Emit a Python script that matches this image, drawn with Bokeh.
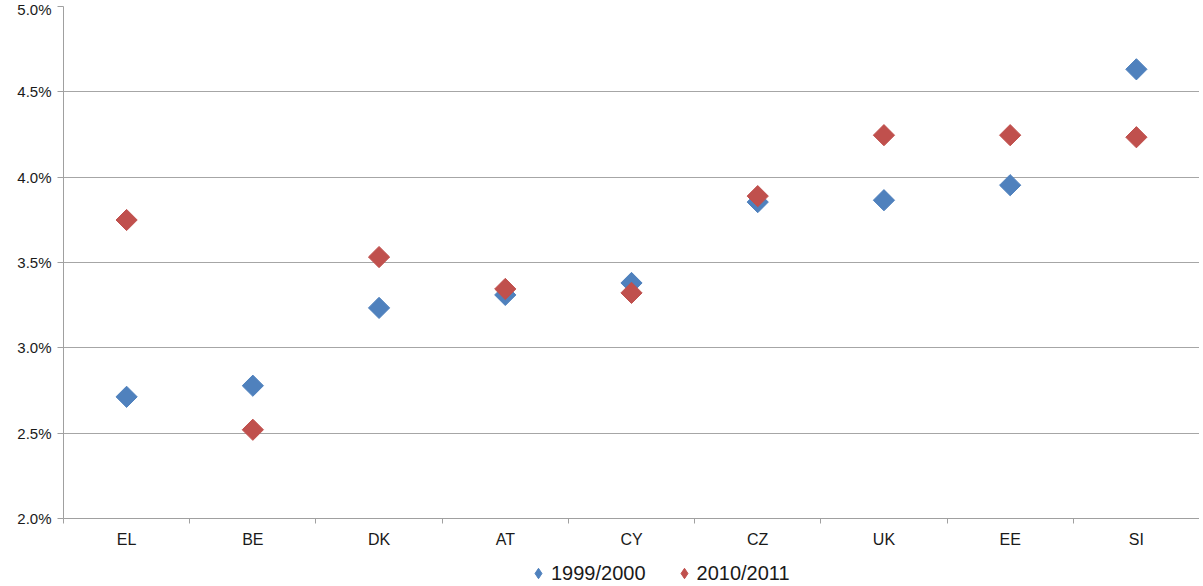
from bokeh.plotting import figure
from bokeh.layouts import column
from bokeh.models import (ColumnDataSource, FixedTicker, NumeralTickFormatter,
                          Range1d, Legend, LegendItem)
from bokeh.embed import file_html
from bokeh.resources import INLINE
import math

categories = ["EL", "BE", "DK", "AT", "CY", "CZ", "UK", "EE", "SI"]
series_1999 = [0.02713, 0.02778, 0.03234, 0.03310, 0.03380, 0.03854, 0.03865, 0.03953, 0.04632]
series_2010 = [0.03749, 0.02520, 0.03532, 0.03345, 0.03322, 0.03889, 0.04246, 0.04246, 0.04234]
y_ticks = [0.020, 0.025, 0.030, 0.035, 0.040, 0.045, 0.050]
series_names = ["1999/2000", "2010/2011"]

BLUE = "#4F81BD"
RED = "#C0504D"
FONT = "Liberation Sans"

xpos = [i + 0.5 for i in range(len(categories))]

p = figure(width=1199, height=550, output_backend="svg", toolbar_location=None,
           x_range=Range1d(0, len(categories)), y_range=Range1d(0.02, 0.05))
p.min_border_left = 63
p.min_border_right = 0
p.min_border_top = 6
p.min_border_bottom = 31
p.outline_line_color = None
p.background_fill_color = "white"
p.border_fill_color = "white"

src1 = ColumnDataSource(dict(x=xpos, y=series_1999))
src2 = ColumnDataSource(dict(x=xpos, y=series_2010))
r1 = p.scatter("x", "y", source=src1, marker="square", angle=math.pi / 4,
               size=15, fill_color=BLUE, line_color=BLUE)
r2 = p.scatter("x", "y", source=src2, marker="square", angle=math.pi / 4,
               size=15, fill_color=RED, line_color=RED)

# x axis: labels at category centers, tick marks at boundaries
xa = p.xaxis[0]
xa.ticker = FixedTicker(ticks=xpos, minor_ticks=list(range(len(categories) + 1)))
xa.major_label_overrides = {x: c for x, c in zip(xpos, categories)}
xa.major_tick_line_color = None
xa.minor_tick_in = 0
xa.minor_tick_out = 5
xa.minor_tick_line_color = "#A0A0A0"
xa.axis_line_color = "#A0A0A0"
xa.major_label_text_font = FONT
xa.major_label_text_font_size = "16px"
xa.major_label_text_color = "#1a1a1a"
xa.major_label_standoff = 6

ya = p.yaxis[0]
ya.ticker = FixedTicker(ticks=y_ticks)
ya.formatter = NumeralTickFormatter(format="0.0%")
ya.major_tick_in = 0
ya.major_tick_out = 6
ya.major_tick_line_color = "#A0A0A0"
ya.minor_tick_line_color = None
ya.axis_line_color = "#A0A0A0"
ya.major_label_text_font = FONT
ya.major_label_text_font_size = "15px"
ya.major_label_text_color = "#1a1a1a"
ya.major_label_standoff = 6

p.xgrid.grid_line_color = None
p.ygrid.grid_line_color = "#A6A6A6"
p.ygrid.grid_line_width = 1
p.ygrid.ticker = FixedTicker(ticks=y_ticks)

# legend strip below the chart (its own data lie outside its visible range)
lg = figure(width=1199, height=36, output_backend="svg", toolbar_location=None,
            x_range=Range1d(0, len(categories)), y_range=Range1d(1, 2))
lg.min_border_left = 0
lg.min_border_right = 0
lg.min_border_top = 0
lg.min_border_bottom = 0
lg.axis.visible = False
lg.grid.visible = False
lg.outline_line_color = None
l1 = lg.scatter("x", "y", source=ColumnDataSource(dict(x=xpos, y=series_1999)),
                marker="diamond", fill_color=BLUE, line_color=BLUE)
l2 = lg.scatter("x", "y", source=ColumnDataSource(dict(x=xpos, y=series_2010)),
                marker="diamond", fill_color=RED, line_color=RED)
legend = Legend(items=[LegendItem(label=series_names[0], renderers=[l1]),
                       LegendItem(label=series_names[1], renderers=[l2])],
                orientation="horizontal", location=(462, 0),
                label_text_font=FONT, label_text_font_size="20px",
                label_text_color="#1a1a1a",
                glyph_width=26, glyph_height=26, label_standoff=0,
                spacing=25, padding=0, margin=0,
                border_line_color=None, background_fill_alpha=0)
lg.add_layout(legend, "center")

layout = column(p, lg, spacing=0)
open("out.html", "w").write(file_html(layout, INLINE))
